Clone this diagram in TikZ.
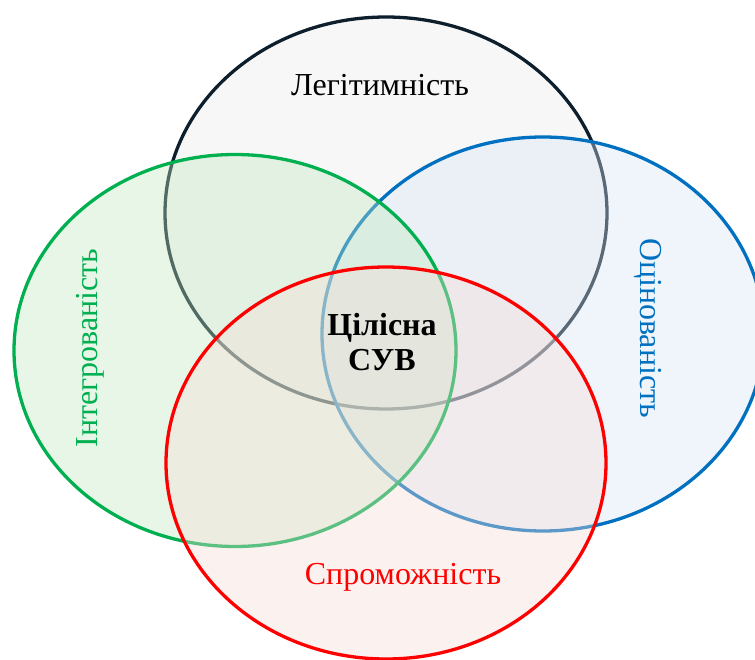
\documentclass[tikz,border=0pt]{standalone}
\usepackage{fontspec}
\setmainfont{Liberation Serif}
\definecolor{cTop}{HTML}{0D1F2D}
\definecolor{cGreen}{HTML}{00B050}
\definecolor{cBlue}{HTML}{0070C0}
\definecolor{cRed}{HTML}{FF0000}
\definecolor{fTop}{RGB}{235,235,235}
\definecolor{fGreen}{RGB}{192,232,192}
\definecolor{fBlue}{RGB}{215,228,244}
\definecolor{fRed}{RGB}{244,220,214}
\tikzset{
  venn/.style={line width=3.3pt, fill opacity=0.38},
  lbl/.style={font=\fontsize{32}{36}\selectfont, inner sep=0pt, align=center},
}
\begin{document}
\begin{tikzpicture}[x=1pt,y=-1pt]
\useasboundingbox (0,0) rectangle (755,660);
\clip (0,0) rectangle (755,660);
\path[venn, draw=cTop, fill=fTop] (386,213) ellipse [x radius=221pt, y radius=196pt];
\path[venn, draw=cBlue, fill=fBlue] (543,334) ellipse [x radius=221pt, y radius=197pt];
\path[venn, draw=cGreen, fill=fGreen] (235,350.5) ellipse [x radius=221pt, y radius=196pt];
\path[venn, draw=cRed, fill=fRed] (386,463) ellipse [x radius=220pt, y radius=196pt];
\node[lbl, text=black] (leg) at (380,85) {Легітимність};
\node[lbl, text=cGreen, rotate=90] (int) at (90,348) {Інтегрованість};
\node[lbl, text=cBlue, rotate=-90] (ots) at (648,328) {Оцінованість};
\node[lbl, text=cRed] (spr) at (403,577) {Спроможність};
\node[lbl, font=\fontsize{32}{35}\selectfont\bfseries] (cil) at (382,342) {Цілісна\\СУВ};
\end{tikzpicture}
\end{document}
